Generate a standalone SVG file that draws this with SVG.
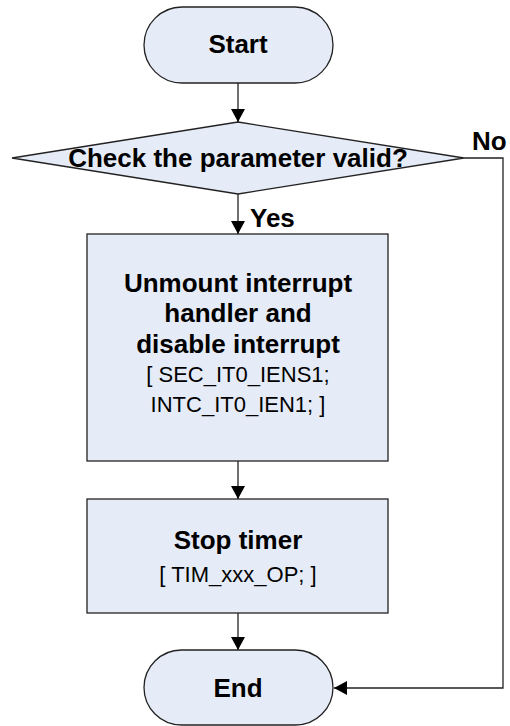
<svg xmlns="http://www.w3.org/2000/svg" width="510" height="726" viewBox="0 0 510 726">
  <style>
    .shape { fill: #e6ecf7; stroke: #222; stroke-width: 1.3; }
    .conn { fill: none; stroke: #222; stroke-width: 1.3; }
    .bold { font-family: "Liberation Sans", Arial, sans-serif; font-weight: bold; font-size: 26px; fill: #000; text-anchor: middle; }
    .code { font-family: "Liberation Sans", Arial, sans-serif; font-size: 22px; fill: #000; text-anchor: middle; }
    .lbl { font-family: "Liberation Sans", Arial, sans-serif; font-weight: bold; font-size: 26px; fill: #000; }
  </style>
  <defs>
    <marker id="arrow" markerWidth="14" markerHeight="14" refX="13" refY="7" orient="auto" markerUnits="userSpaceOnUse">
      <path d="M0,0 L13,7 L0,14 Z" fill="#000"/>
    </marker>
  </defs>
  <rect width="510" height="726" fill="#fff"/>

  <g id="connectors">
    <line class="conn" x1="238" y1="83" x2="238" y2="122" marker-end="url(#arrow)"/>
    <line class="conn" x1="238" y1="194" x2="238" y2="234" marker-end="url(#arrow)"/>
    <line class="conn" x1="238" y1="461" x2="238" y2="499" marker-end="url(#arrow)"/>
    <line class="conn" x1="238" y1="613" x2="238" y2="650" marker-end="url(#arrow)"/>
    <polyline class="conn" points="464,158 503,158 503,688 334,688" marker-end="url(#arrow)"/>
    <text class="lbl" x="250" y="227">Yes</text>
    <text class="lbl" x="472" y="150">No</text>
  </g>

  <g id="start">
    <rect class="shape" x="144" y="7" width="189" height="76" rx="38" ry="38"/>
    <text class="bold" x="238" y="53">Start</text>
  </g>

  <g id="check">
    <polygon class="shape" points="238,122 464,158 238,194 12,158"/>
    <text class="bold" x="238" y="167">Check the parameter valid?</text>
  </g>

  <g id="unmount">
    <rect class="shape" x="87" y="234" width="301" height="227"/>
    <text class="bold" x="238" y="292">Unmount interrupt</text>
    <text class="bold" x="238" y="322">handler and</text>
    <text class="bold" x="238" y="353">disable interrupt</text>
    <text class="code" x="238" y="382">[ SEC_IT0_IENS1;</text>
    <text class="code" x="238" y="412">INTC_IT0_IEN1; ]</text>
  </g>

  <g id="stop">
    <rect class="shape" x="87" y="499" width="301" height="114"/>
    <text class="bold" x="238" y="549">Stop timer</text>
    <text class="code" x="238" y="582">[ TIM_xxx_OP; ]</text>
  </g>

  <g id="end">
    <rect class="shape" x="144" y="650" width="189" height="75" rx="37.5" ry="37.5"/>
    <text class="bold" x="238" y="697">End</text>
  </g>
</svg>
